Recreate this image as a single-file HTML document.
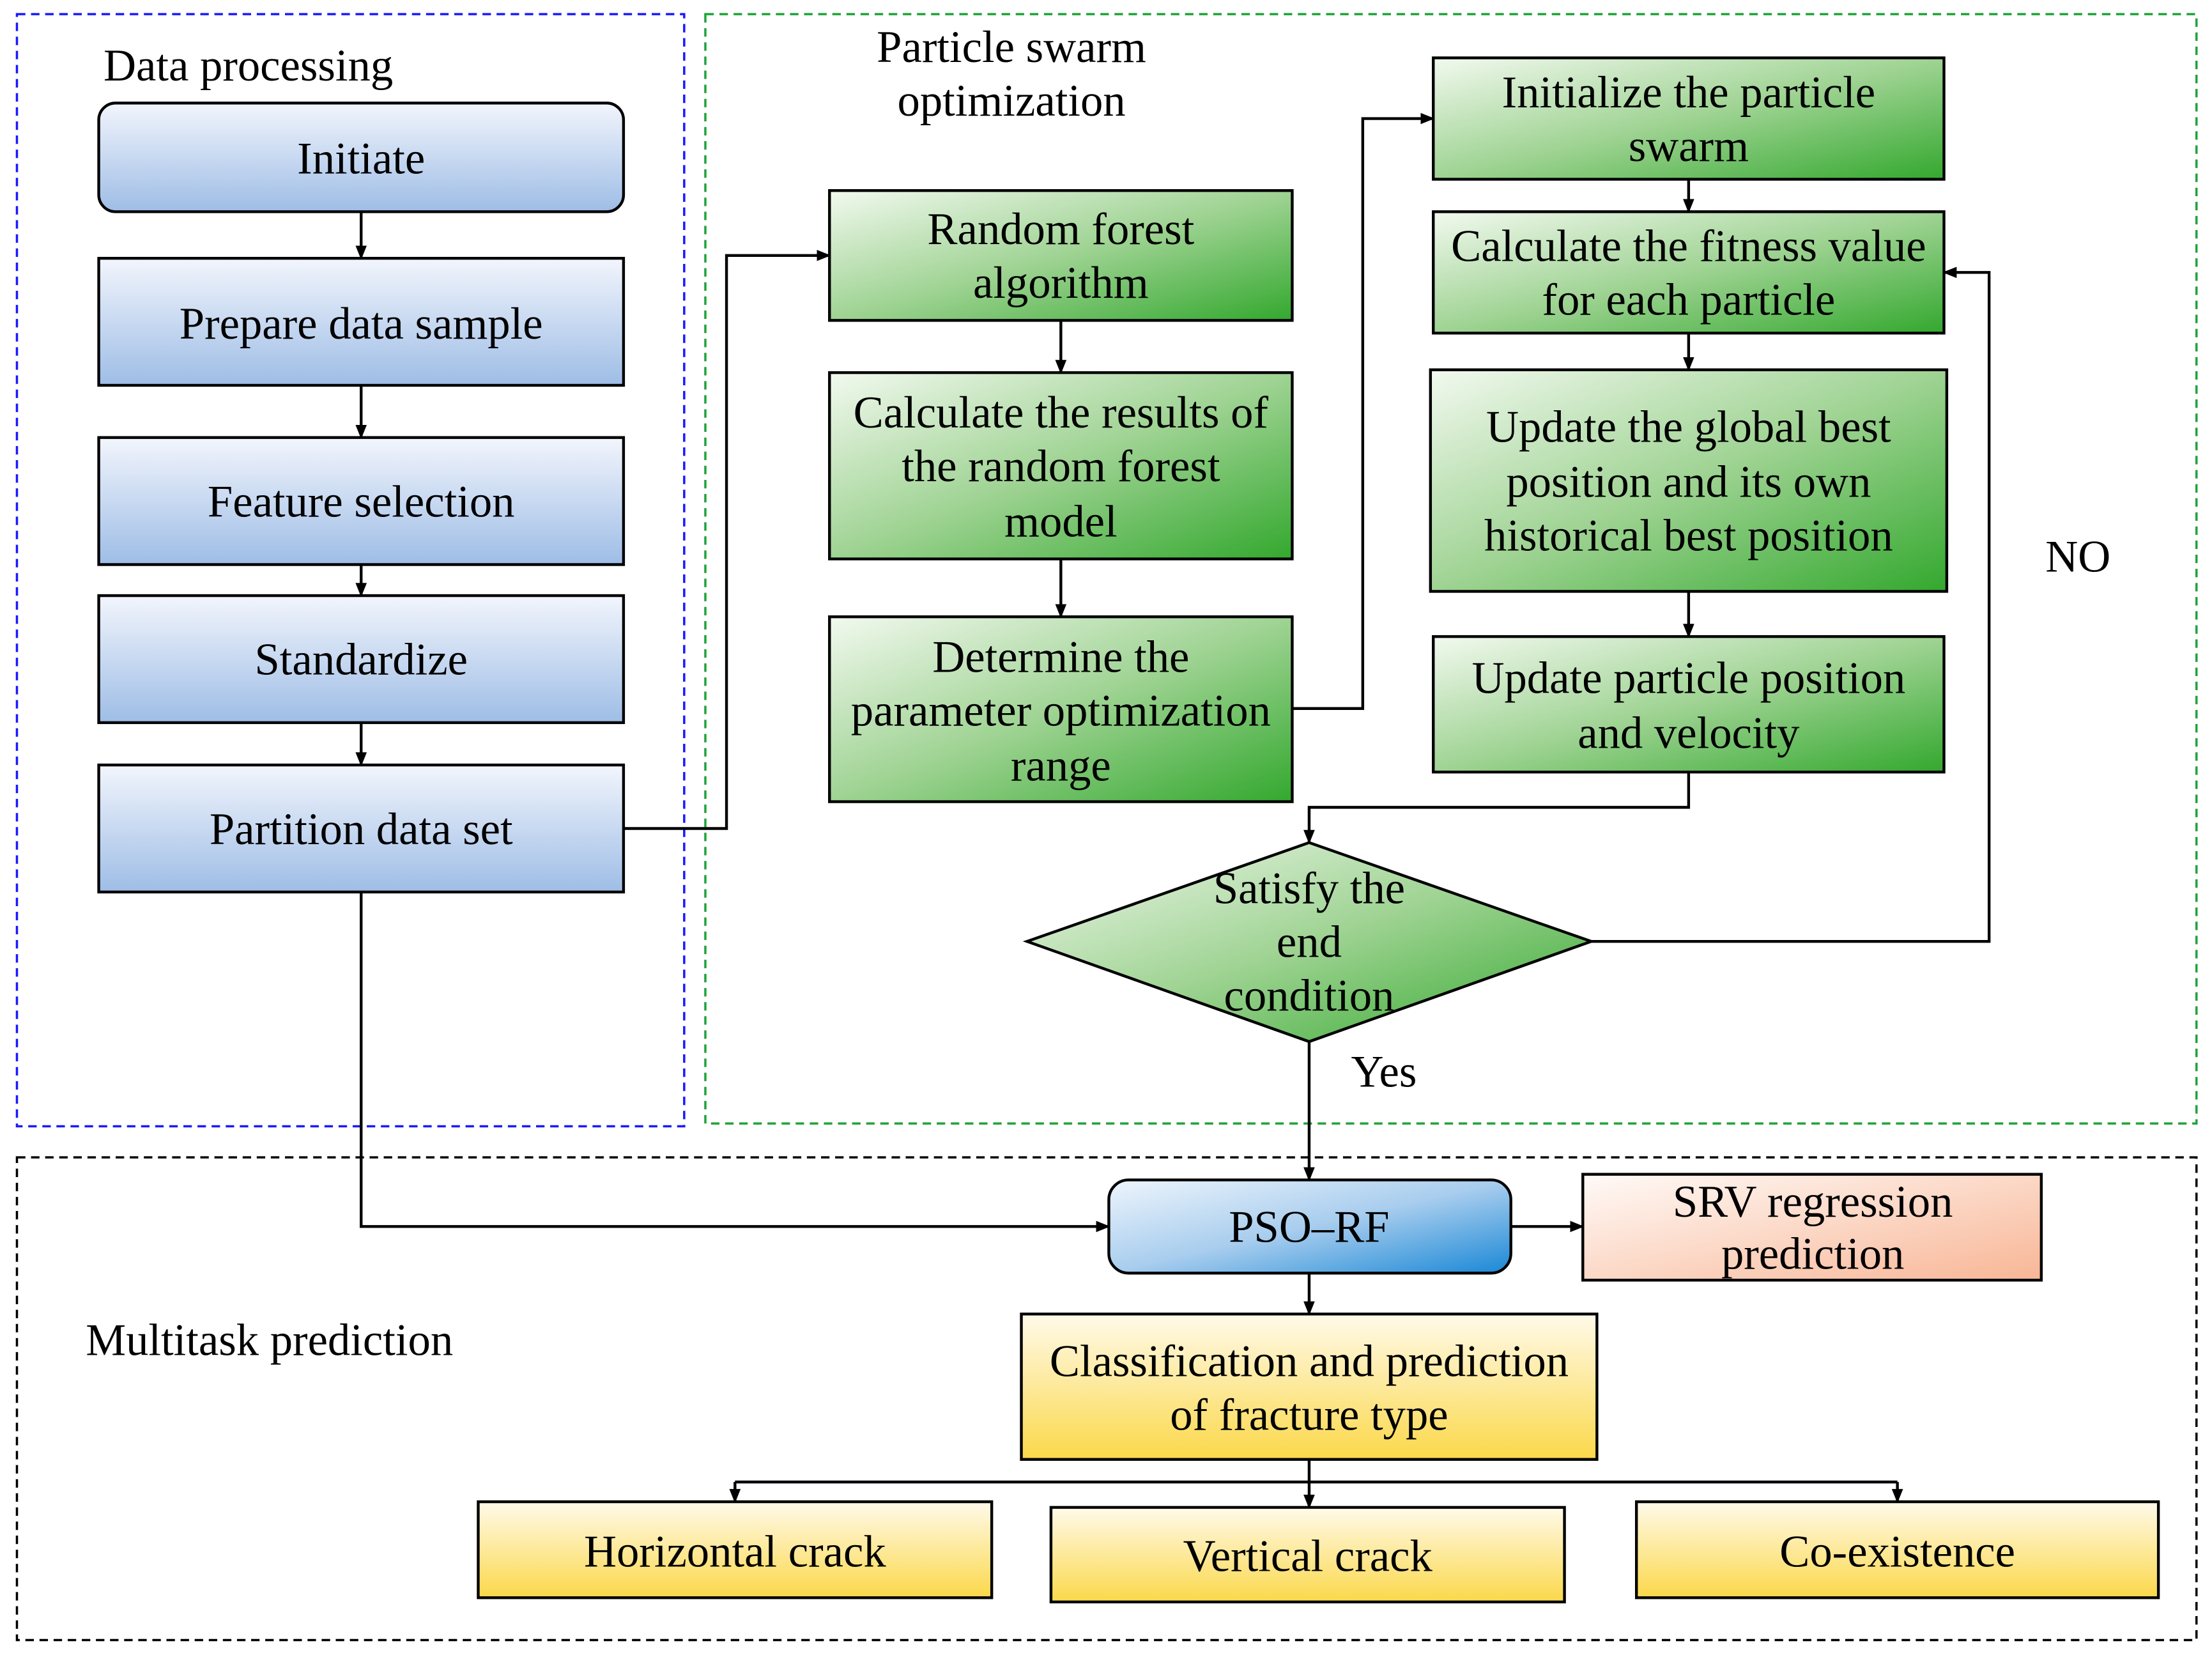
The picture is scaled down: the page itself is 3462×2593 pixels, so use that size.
<!DOCTYPE html>
<html><head><meta charset="utf-8"><style>html,body{margin:0;padding:0;background:#fff}svg{display:block}text{font-family:"Liberation Serif",serif;font-size:32px;fill:#000}</style></head><body>
<svg width="3462" height="2593" viewBox="0 0 1568 1174" preserveAspectRatio="none" xmlns="http://www.w3.org/2000/svg">
<defs>
<linearGradient id="bl" x1="0" y1="0" x2="0" y2="1"><stop offset="0" stop-color="#f2f5fc"/><stop offset="1" stop-color="#9ebde6"/></linearGradient>
<linearGradient id="gr" x1="0" y1="0" x2="1" y2="1"><stop offset="0" stop-color="#f2f9ef"/><stop offset="0.5" stop-color="#9fd393"/><stop offset="1" stop-color="#33a82e"/></linearGradient>
<linearGradient id="pso" x1="0" y1="0" x2="1" y2="1"><stop offset="0" stop-color="#eef5fc"/><stop offset="0.5" stop-color="#a8cdee"/><stop offset="1" stop-color="#1a88d6"/></linearGradient>
<linearGradient id="or" x1="0" y1="0" x2="1" y2="1"><stop offset="0" stop-color="#fffaf7"/><stop offset="1" stop-color="#f8b696"/></linearGradient>
<linearGradient id="ye" x1="0" y1="0" x2="0" y2="1"><stop offset="0" stop-color="#fffaea"/><stop offset="1" stop-color="#fbd84a"/></linearGradient>
<marker id="a" markerWidth="10" markerHeight="10" refX="9" refY="5" orient="auto" markerUnits="userSpaceOnUse"><path d="M0,1 L10,5 L0,9 z" fill="#000"/></marker>
</defs>
<g fill="none" stroke-width="1.6" stroke-dasharray="6,4">
<rect x="12" y="10" width="473" height="788" stroke="#1a1aff"/>
<rect x="500" y="10" width="1057" height="786" stroke="#1fa33a"/>
<rect x="12" y="820" width="1545" height="342" stroke="#000"/>
</g>
<g stroke="#000" stroke-width="2">
<rect x="70" y="73" width="372" height="77" rx="12" fill="url(#bl)"/>
<rect x="70" y="183" width="372" height="90" fill="url(#bl)"/>
<rect x="70" y="310" width="372" height="90" fill="url(#bl)"/>
<rect x="70" y="422" width="372" height="90" fill="url(#bl)"/>
<rect x="70" y="542" width="372" height="90" fill="url(#bl)"/>
<rect x="588" y="135" width="328" height="92" fill="url(#gr)"/>
<rect x="588" y="264" width="328" height="132" fill="url(#gr)"/>
<rect x="588" y="437" width="328" height="131" fill="url(#gr)"/>
<rect x="1016" y="41" width="362" height="86" fill="url(#gr)"/>
<rect x="1016" y="150" width="362" height="86" fill="url(#gr)"/>
<rect x="1014" y="262" width="366" height="157" fill="url(#gr)"/>
<rect x="1016" y="451" width="362" height="96" fill="url(#gr)"/>
<polygon points="728,667 928,597 1128,667 928,738" fill="url(#gr)"/>
<rect x="786" y="836" width="285" height="66" rx="14" fill="url(#pso)"/>
<rect x="1122" y="832" width="325" height="75" fill="url(#or)"/>
<rect x="724" y="931" width="408" height="103" fill="url(#ye)"/>
<rect x="339" y="1064" width="364" height="68" fill="url(#ye)"/>
<rect x="745" y="1068" width="364" height="67" fill="url(#ye)"/>
<rect x="1160" y="1064" width="370" height="68" fill="url(#ye)"/>
</g>
<g stroke="#000" stroke-width="2" fill="none" marker-end="url(#a)">
<path d="M256,150V183"/><path d="M256,273V310"/><path d="M256,400V422"/><path d="M256,512V542"/>
<path d="M752,227V264"/><path d="M752,396V437"/>
<path d="M1197,127V150"/><path d="M1197,236V262"/><path d="M1197,419V451"/>
<path d="M442,587H515V181H588"/>
<path d="M916,502H966V84H1016"/>
<path d="M1197,547V572H928V597"/>
<path d="M1128,667H1410V193H1378"/>
<path d="M928,738V836"/>
<path d="M256,632V869H786"/>
<path d="M1071,869H1122"/>
<path d="M928,902V931"/>
<path d="M521,1050V1064"/><path d="M928,1034V1068"/><path d="M1345,1050V1064"/>
</g>
<path d="M521,1050H1345" stroke="#000" stroke-width="2"/>
<g text-anchor="middle">
<text x="176" y="57">Data processing</text>
<text x="717" y="44">Particle swarm</text><text x="717" y="82">optimization</text>
<text x="256" y="123">Initiate</text>
<text x="256" y="240">Prepare data sample</text>
<text x="256" y="366">Feature selection</text>
<text x="256" y="478">Standardize</text>
<text x="256" y="598">Partition data set</text>
<text x="752" y="173">Random forest</text><text x="752" y="211">algorithm</text>
<text x="752" y="303">Calculate the results of</text><text x="752" y="341">the random forest</text><text x="752" y="380">model</text>
<text x="752" y="476">Determine the</text><text x="752" y="514">parameter optimization</text><text x="752" y="553">range</text>
<text x="1197" y="76">Initialize the particle</text><text x="1197" y="114">swarm</text>
<text x="1197" y="185">Calculate the fitness value</text><text x="1197" y="223">for each particle</text>
<text x="1197" y="313">Update the global best</text><text x="1197" y="352">position and its own</text><text x="1197" y="390">historical best position</text>
<text x="1197" y="491">Update particle position</text><text x="1197" y="530">and velocity</text>
<text x="928" y="640">Satisfy the</text><text x="928" y="678">end</text><text x="928" y="716">condition</text>
<text x="1473" y="405" font-size="26">NO</text>
<text x="981" y="770" font-size="26">Yes</text>
<text x="928" y="880">PSO–RF</text>
<text x="1285" y="862">SRV regression</text><text x="1285" y="899">prediction</text>
<text x="928" y="975">Classification and prediction</text><text x="928" y="1013">of fracture type</text>
<text x="191" y="960">Multitask prediction</text>
<text x="521" y="1110">Horizontal crack</text>
<text x="927" y="1113">Vertical crack</text>
<text x="1345" y="1110">Co-existence</text>
</g>
</svg>
</body></html>
